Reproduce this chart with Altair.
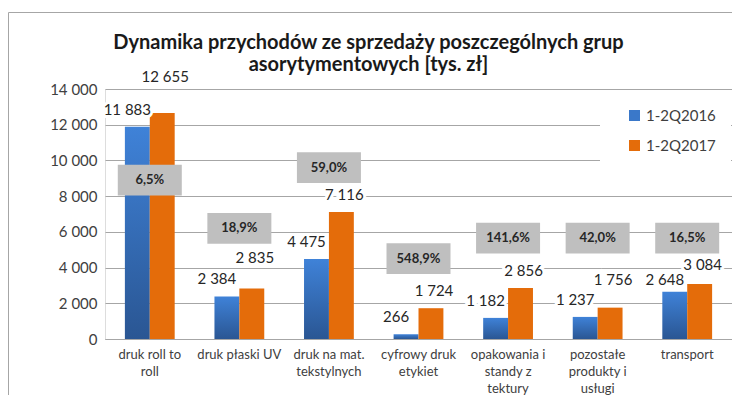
import altair as alt
import pandas as pd

# ---- data ----
category_lines = [
    ["druk roll to", "roll"],
    ["druk płaski UV"],
    ["druk na mat.", "tekstylnych"],
    ["cyfrowy druk", "etykiet"],
    ["opakowania i", "standy z", "tektury"],
    ["pozostałe", "produkty i", "usługi"],
    ["transport"],
]
series = ["1-2Q2016", "1-2Q2017"]
values_2016 = [11883, 2384, 4475, 266, 1182, 1237, 2648]
values_2017 = [12655, 2835, 7116, 1724, 2856, 1756, 3084]
dynamics = ["6,5%", "18,9%", "59,0%", "548,9%", "141,6%", "42,0%", "16,5%"]
dynamics_level = [8900, 6200, 9600, 4500, 5650, 5650, 5650]
y_ticks = [0, 2000, 4000, 6000, 8000, 10000, 12000, 14000]

# extra lift (px) of individual value labels, as placed in the reference
label_lift_2016 = [0, 0, 0, 0, 0, 0, -5]
label_lift_2017 = [19, 13, 0, 0, 0, 11, 2]

title_lines = ["Dynamika przychodów ze sprzedaży poszczególnych grup",
               "asorytymentowych [tys. zł]"]

categories = ["|".join(c) for c in category_lines]

rows = []
for c, v1, v2, l1, l2 in zip(categories, values_2016, values_2017,
                             label_lift_2016, label_lift_2017):
    rows.append({"cat": c, "series": series[0], "value": v1, "lift": l1})
    rows.append({"cat": c, "series": series[1], "value": v2, "lift": l2})
df = pd.DataFrame(rows)
dyn_df = pd.DataFrame({"cat": categories, "dyn": dynamics, "level": dynamics_level})

BLUE = "#3a78c9"
ORANGE = "#e46c0a"
FONT = "Lato"
GRID = "#a6a6a6"
PLOT_H = 250
Y_MAX = 14000

blue_grad = alt.LinearGradient(
    gradient="linear", x1=0, y1=0, x2=0, y2=1,
    stops=[alt.GradientStop(offset=0, color="#3f82d8"),
           alt.GradientStop(offset=1, color="#2a5693")])

y_scale = alt.Scale(domain=[0, Y_MAX], nice=False)
y_axis = alt.Axis(title=None, values=y_ticks, format=",d", domain=False,
                  ticks=False, labelFontSize=15, labelFont=FONT,
                  labelColor="#404040", labelPadding=8, gridColor=GRID,
                  labelOverlap=False)

x_enc = alt.X("cat:N", sort=categories,
              scale=alt.Scale(paddingInner=0.444, paddingOuter=0.222),
              axis=alt.Axis(title=None, labelAngle=0, ticks=False, domainColor=GRID,
                            labelPadding=9, labelFontSize=13, labelFont=FONT,
                            labelColor="#404040", labelLineHeight=17,
                            labelLimit=200, labelOverlap=False,
                            labelExpr="split(datum.label, '|')"))
xoff = alt.XOffset("series:N", scale=alt.Scale(domain=series, paddingInner=0, paddingOuter=0))
y_enc = alt.Y("value:Q", scale=y_scale, axis=y_axis)

base = alt.Chart(df)

border = alt.Chart(pd.DataFrame({"k": [0]})).mark_rect(
    fillOpacity=0, stroke="#a6a6a6", strokeWidth=1
).encode(x=alt.value(-96.5), x2=alt.value(800), y=alt.value(-76.5), y2=alt.value(500))

bars16 = base.transform_filter(alt.datum.series == series[0]).mark_bar(fill=blue_grad).encode(
    x=x_enc, xOffset=xoff, y=y_enc)
bars17 = base.transform_filter(alt.datum.series == series[1]).mark_bar(fill=ORANGE).encode(
    x=x_enc, xOffset=xoff, y=y_enc)

legend_layer = base.mark_square(opacity=0).encode(
    x=x_enc, xOffset=xoff, y=y_enc,
    color=alt.Color("series:N", scale=alt.Scale(domain=series, range=[BLUE, ORANGE]),
                    legend=alt.Legend(title=None, orient="none", legendX=495, legendY=4,
                                      direction="vertical", symbolType="square",
                                      symbolSize=121, symbolOpacity=1, symbolStrokeWidth=0,
                                      symbolOffset=12,
                                      labelFontSize=15, labelFont=FONT, labelColor="#404040",
                                      rowPadding=14, padding=15, fillColor="white",
                                      labelOffset=4)))

def value_labels(s, dx):
    sub = base.transform_filter(alt.datum.series == s).transform_calculate(
        value_pos=f"datum.value + datum.lift * {Y_MAX} / {PLOT_H}")
    ly = alt.Y("value_pos:Q", scale=y_scale, axis=y_axis)
    halo = sub.mark_text(fontSize=15, font=FONT, dx=dx, dy=-12, baseline="alphabetic",
                         fill="white", stroke="white", strokeWidth=6).encode(
        x=x_enc, xOffset=xoff, y=ly, text=alt.Text("value:Q", format=",d"))
    txt = sub.mark_text(fontSize=15, font=FONT, dx=dx, dy=-12, baseline="alphabetic",
                        color="#262626").encode(
        x=x_enc, xOffset=xoff, y=ly, text=alt.Text("value:Q", format=",d"))
    return [halo, txt]

box_shape = "M-1,-0.48L1,-0.48L1,0.48L-1,0.48Z"
boxes = alt.Chart(dyn_df).mark_point(shape=box_shape, filled=True, color="#bfbfbf",
                                     opacity=1, size=4096).encode(
    x=x_enc, y=alt.Y("level:Q", scale=y_scale, axis=y_axis))
box_text = alt.Chart(dyn_df).mark_text(fontSize=13, font=FONT, fontWeight="bold",
                                       color="#262626").encode(
    x=x_enc, y=alt.Y("level:Q", scale=y_scale, axis=y_axis), text="dyn:N")

layers = [border, bars16, bars17, legend_layer] + value_labels(series[0], -10) + \
    value_labels(series[1], 3) + [boxes, box_text]

chart = alt.layer(*layers).properties(
    width=627, height=PLOT_H,
    autosize=alt.AutoSizeParams(type="none"),
    padding={"left": 97, "top": 81, "right": 0, "bottom": 56},
    title=alt.Title(title_lines, fontSize=20, font=FONT, fontWeight="bold", color="#1a1a1a",
                    anchor="middle", frame="group", dx=-50, lineHeight=22, offset=0, dy=63),
).configure_view(stroke=None).configure(
    locale={"number": {"decimal": ",", "thousands": " ", "grouping": [3],
                       "currency": ["", " zł"]}}
)

chart.save("out.html", embed_options={"renderer": "svg", "actions": False})
